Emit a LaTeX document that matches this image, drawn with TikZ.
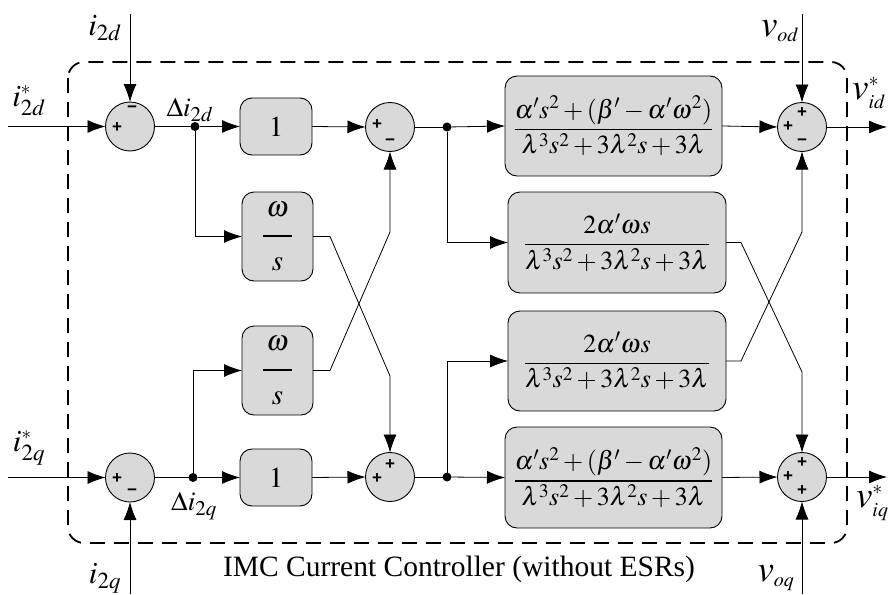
\documentclass[tikz,border=0pt]{standalone}
\usepackage{amsmath}
\usepackage{mathptmx}
\usepackage{fontspec}
\setmainfont{Liberation Serif}
\newfontfamily\signfont{Liberation Sans}
\usetikzlibrary{arrows.meta,calc}
\definecolor{boxgray}{RGB}{217,217,217}
\newcommand{\bigfrac}[1]{\dfrac{#1}{\lambda^{3}s^{2}+3\lambda^{2}s+3\lambda}}
\newcommand{\wfrac}{\dfrac{\hspace{3.5pt}\omega\hspace{3.5pt}\rule[-15pt]{0pt}{1pt}}{\rule{0pt}{30pt}s}}
% math at an explicit point size, used for sub- and superscripts of labels
\newcommand{\sz}[2]{\text{\fontsize{#1}{#1}\selectfont$#2$}}
\begin{document}
\begin{tikzpicture}[x=1pt,y=-1pt,
  every node/.style={inner sep=0pt,outer sep=0pt},
  sumnode/.style={circle,draw,line width=0.9pt,fill=boxgray,minimum size=49pt},
  blk/.style={draw,line width=0.9pt,fill=boxgray,rounded corners=12pt,
    font=\fontsize{26}{30}\selectfont},
  sig/.style={font=\signfont\bfseries\fontsize{17}{17}\selectfont},
  ilbl/.style={font=\fontsize{31}{33}\selectfont},
  dlbl/.style={font=\fontsize{27}{30}\selectfont},
  vlbl/.style={font=\fontsize{37}{40}\selectfont},
  wire/.style={line width=0.8pt},
  arr/.style={wire,-{Latex[length=18pt,width=13pt]}},
  dot/.style={circle,fill=black,minimum size=9pt}]
\useasboundingbox (0,0) rectangle (888,594);

% dashed controller frame
\draw[line width=1.8pt,dash pattern=on 15pt off 9pt,rounded corners=16pt]
  (68,62) rectangle (847,543);

% summing junctions
\node[sumnode] (s1) at (130,126.5) {};
\node[sumnode] (s2) at (390,127) {};
\node[sumnode] (s3) at (802,127) {};
\node[sumnode] (s5) at (130,477.5) {};
\node[sumnode] (s6) at (390,477) {};
\node[sumnode] (s7) at (802,477) {};

% signs
\node[sig] at ($(s1)+(-13,1)$) {+};
\node[sig] at ($(s1)+(2,-17)$) {\textminus};
\node[sig] at ($(s5)+(-13,1)$) {+};
\node[sig] at ($(s5)+(2,15)$) {\textminus};
\node[sig] at ($(s2)+(-13,-2)$) {+};
\node[sig] at ($(s2)+(0,15)$) {\textminus};
\node[sig] at ($(s6)+(-13,2)$) {+};
\node[sig] at ($(s6)+(0,-12)$) {+};
\node[sig] at ($(s3)+(-14,0)$) {+};
\node[sig] at ($(s3)+(0,-14)$) {+};
\node[sig] at ($(s3)+(0,15)$) {\textminus};
\node[sig] at ($(s7)+(-14,0)$) {+};
\node[sig] at ($(s7)+(0,-14)$) {+};
\node[sig] at ($(s7)+(0,14)$) {+};

% blocks
\node[blk,minimum width=72pt,minimum height=57pt,font=\fontsize{29}{30}\selectfont] (k1) at (276,126.5) {$1$};
\node[blk,minimum width=72pt,minimum height=57pt,font=\fontsize{29}{30}\selectfont] (k2) at (276,477.5) {$1$};
\node[blk,minimum width=71pt,minimum height=89pt,font=\fontsize{29}{30}\selectfont] (w1) at (277.5,236.5) {$\wfrac$};
\node[blk,minimum width=71pt,minimum height=89pt,font=\fontsize{29}{30}\selectfont] (w2) at (277.5,370.5) {$\wfrac$};
\node[blk,minimum width=217pt,minimum height=100pt] (gt) at (613.5,126) {$\bigfrac{\alpha' s^{2}+(\beta'-\alpha'\omega^{2})}$};
\node[blk,minimum width=218pt,minimum height=101pt] (c1) at (617,242.5) {$\bigfrac{2\alpha'\omega s}$};
\node[blk,minimum width=218pt,minimum height=100pt] (c2) at (617,361) {$\bigfrac{2\alpha'\omega s}$};
\node[blk,minimum width=217pt,minimum height=101pt] (gb) at (613.5,477.5) {$\bigfrac{\alpha' s^{2}+(\beta'-\alpha'\omega^{2})}$};

% branch points
\node[dot] (j1) at (195,126.5) {};
\node[dot] (j2) at (447,127) {};
\node[dot] (j3) at (193,477.5) {};
\node[dot] (j4) at (447,477) {};

% free ends of external signals
\coordinate (inD) at (8,126.5);
\coordinate (inQ) at (8,477.5);
\coordinate (fbD) at (130,14);
\coordinate (fbQ) at (130,594);
\coordinate (voD) at (802,14);
\coordinate (voQ) at (802,594);
\coordinate (outD) at (887,127);
\coordinate (outQ) at (887,477);

% d-axis path
\draw[arr] (inD) -- (s1.west);
\draw[arr] (fbD) -- (s1.north);
\draw[wire] (s1.east) -- (j1);
\draw[arr] (j1) -- (k1.west);
\draw[arr] (j1) |- (w1.west);
\draw[arr] (k1.east) -- (s2.west);
\draw[wire] (s2.east) -- (j2);
\draw[arr] (j2) -- (gt.west);
\draw[arr] (j2) |- (c1.west);
\draw[arr] (gt.east) -- (s3.west);
\draw[arr] (voD) -- (s3.north);
\draw[arr] (s3.east) -- (outD);

% q-axis path
\draw[arr] (inQ) -- (s5.west);
\draw[arr] (fbQ) -- (s5.south);
\draw[wire] (s5.east) -- (j3);
\draw[arr] (j3) -- (k2.west);
\draw[arr] (j3) |- (w2.west);
\draw[arr] (k2.east) -- (s6.west);
\draw[wire] (s6.east) -- (j4);
\draw[arr] (j4) -- (gb.west);
\draw[arr] (j4) |- (c2.west);
\draw[arr] (gb.east) -- (s7.west);
\draw[arr] (voQ) -- (s7.south);
\draw[arr] (s7.east) -- (outQ);

% cross-coupling paths
\draw[arr] (w1.east) -- ++(17,0) -- (s6.north |- 0,376) -- (s6.north);
\draw[arr] (w2.east) -- ++(17,0) -- (s2.south |- 0,232) -- (s2.south);
\draw[arr] (c1.east) -- ++(15,0) -- (s7.north |- 0,372) -- (s7.north);
\draw[arr] (c2.east) -- ++(15,0) -- (s3.south |- 0,232) -- (s3.south);

% signal labels
\node[ilbl] (lfbD) at (105,28) {$i_{\sz{23}{2d}}$};
\node[ilbl] (linD) at (29,101) {$i^{\sz{19}{*}}_{\sz{23}{2d}}$};
\node[dlbl] (ldD) at (190,110) {$\Delta i_{\sz{21}{2d}}$};
\node[vlbl] (lvoD) at (780,31) {$v_{\sz{20}{od}}$};
\node[vlbl] (loutD) at (869,93) {$v^{\sz{20}{*}}_{\sz{20}{id}}$};
\node[ilbl] (linQ) at (29,448) {$i^{\sz{19}{*}}_{\sz{23}{2q}}$};
\node[dlbl] (ldQ) at (194,506) {$\Delta i_{\sz{21}{2q}}$};
\node[ilbl] (lfbQ) at (105,578) {$i_{\sz{23}{2q}}$};
\node[vlbl] (lvoQ) at (776,578) {$v_{\sz{20}{oq}}$};
\node[vlbl,anchor=west] (loutQ) at (856,503) {$v^{\sz{20}{*}}_{\sz{20}{iq}}$};

% caption
\node[font=\fontsize{29.5}{32}\selectfont] (cap) at (459,569) {IMC Current Controller (without ESRs)};
\end{tikzpicture}
\end{document}
